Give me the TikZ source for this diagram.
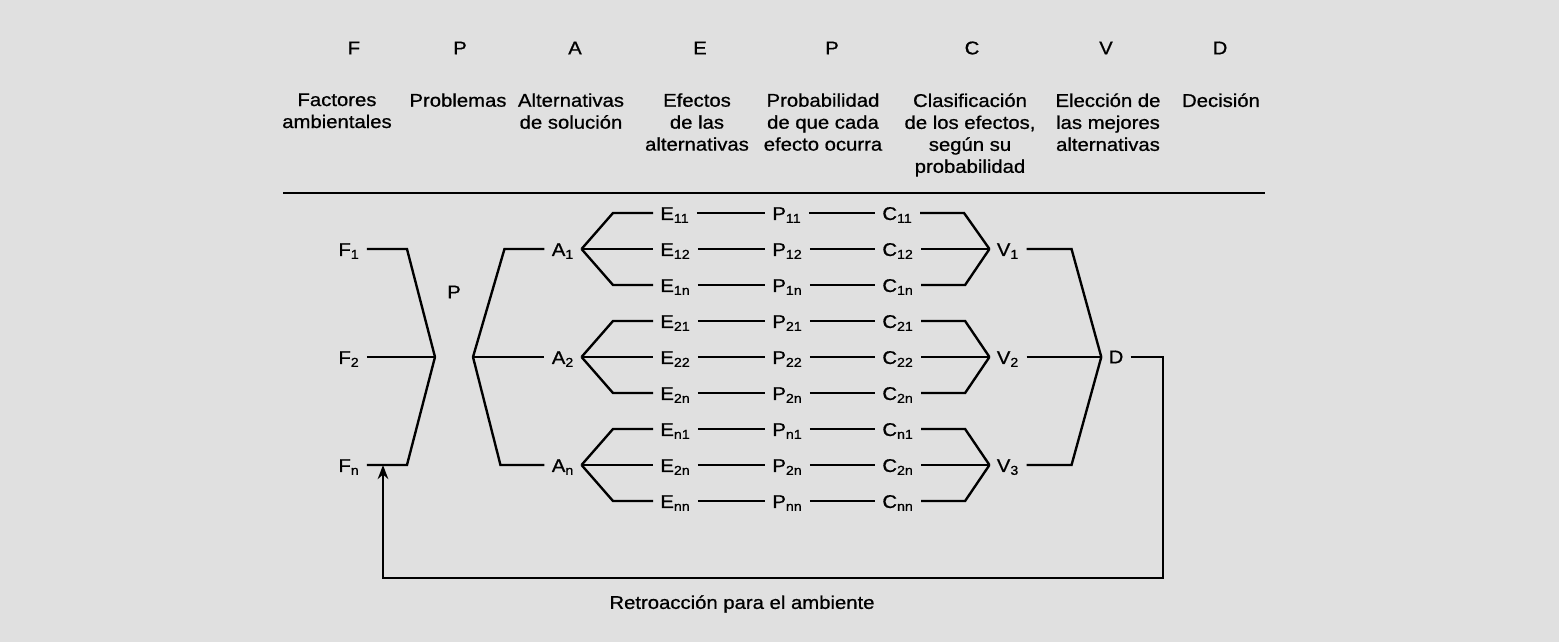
\documentclass[tikz,border=0pt]{standalone}
\usepackage{fontspec}
\setmainfont{Liberation Sans}[FakeStretch=1.1,FakeBold=0.8]
\usetikzlibrary{arrows.meta}

\begin{document}
\begin{tikzpicture}[x=0.02cm,y=-0.02cm,
    every node/.style={font=\fontsize{10.5}{12.5}\selectfont},
    lbl/.style={inner xsep=4pt,inner ysep=0pt,text height=1.5ex,text depth=0pt},
    col/.style={align=center,anchor=north,inner sep=0pt},
    lin/.style={line width=1.35pt}]
        % fondo y marco de la figura
        \fill[black!12] (0,0) rectangle (1559,642);
        \useasboundingbox (0,0) rectangle (1559,642);

        % letras de las etapas
        \node (hF) at (354,48) {F};
        \node (hP) at (460,48) {P};
        \node (hA) at (575,48) {A};
        \node (hE) at (700,48) {E};
        \node (hPr) at (832,48) {P};
        \node (hC) at (972,48) {C};
        \node (hV) at (1106,48) {V};
        \node (hD) at (1220,48) {D};

        % textos de las etapas
        \node[col] (cF) at (337,93) {Factores\\ambientales};
        \node[col] (cP) at (458,93) {Problemas};
        \node[col] (cA) at (571,93) {Alternativas\\de solución};
        \node[col] (cE) at (697,93) {Efectos\\de las\\alternativas};
        \node[col] (cPr) at (823,93) {Probabilidad\\de que cada\\efecto ocurra};
        \node[col] (cC) at (970,93) {Clasificación\\de los efectos,\\según su\\probabilidad};
        \node[col] (cV) at (1108,93) {Elección de\\las mejores\\alternativas};
        \node[col] (cD) at (1221,93) {Decisión};

        \draw[line width=1.4pt] (283,193) -- (1265,193);

        % factores y problema
        \node[lbl] (F1) at (349,249) {F\textsubscript{1}};
        \node[lbl] (F2) at (349,357) {F\textsubscript{2}};
        \node[lbl] (Fn) at (349,465) {F\textsubscript{n}};
        \node (Pb) at (454,292) {P};
        \coordinate (jL) at (435,357);
        \coordinate (jR) at (473,357);

        \draw[lin] (F1.east) -- ++(40,0) -- (jL);
        \draw[lin] (F2) -- (jL);
        \draw[lin] (Fn.east) -- ++(40,0) -- (jL);

        % alternativas
        \node[lbl] (A1) at (563,249) {A\textsubscript{1}};
        \node[lbl] (A2) at (563,357) {A\textsubscript{2}};
        \node[lbl] (An) at (563,465) {A\textsubscript{n}};

        \draw[lin] (A1.west) -- ++(-40,0) -- (jR);
        \draw[lin] (jR) -- (A2);
        \draw[lin] (An.west) -- ++(-44,0) -- (jR);

        % efectos, probabilidades y clasificacion
        \foreach \s [count=\i from 0] in {11,12,1n,21,22,2n,n1,2n,nn} {
            \node[lbl,anchor=west] (E\i) at (653,213+36*\i) {E\textsubscript{\s}};
            \node[lbl,anchor=west] (P\i) at (765,213+36*\i) {P\textsubscript{\s}};
            \node[lbl,anchor=west] (C\i) at (875,213+36*\i) {C\textsubscript{\s}};
            \draw[lin] (E\i) -- (P\i) -- (C\i);
        }

        % eleccion
        \node[lbl] (V1) at (1008,249) {V\textsubscript{1}};
        \node[lbl] (V2) at (1008,357) {V\textsubscript{2}};
        \node[lbl] (V3) at (1008,465) {V\textsubscript{3}};

        \foreach \a/\v/\k in {A1/V1/0,A2/V2/3,An/V3/6} {
            \pgfmathtruncatemacro\m{\k+1}
            \pgfmathtruncatemacro\n{\k+2}
            \draw[lin] (E\k.west) -- ++(-40,0) -- (\a.east);
            \draw[lin] (\a.east) -- (E\m.west);
            \draw[lin] (E\n.west) -- ++(-40,0) -- (\a.east);
            \draw[lin] (C\k.east) -- ++(44,0) -- (\v.west);
            \draw[lin] (C\m.east) -- (\v.west);
            \draw[lin] (C\n.east) -- ++(44,0) -- (\v.west);
        }

        % decision y retroaccion
        \node[inner xsep=4pt] (D) at (1116,357) {D};
        \draw[lin] (V1.east) -- ++(45,0) -- (D.west);
        \draw[lin] (V2) -- (D);
        \draw[lin] (V3.east) -- ++(45,0) -- (D.west);

        \coordinate (fbR) at (1163,578);
        \coordinate (fbL) at (383,578);
        \draw[lin,-{Stealth[length=8pt,width=6pt]}] (D.east) -| (fbR) -- (fbL) -- (fbL |- Fn.east);
        \node (Rt) at (742,604) {Retroacción para el ambiente};
    \end{tikzpicture}
\end{document}
